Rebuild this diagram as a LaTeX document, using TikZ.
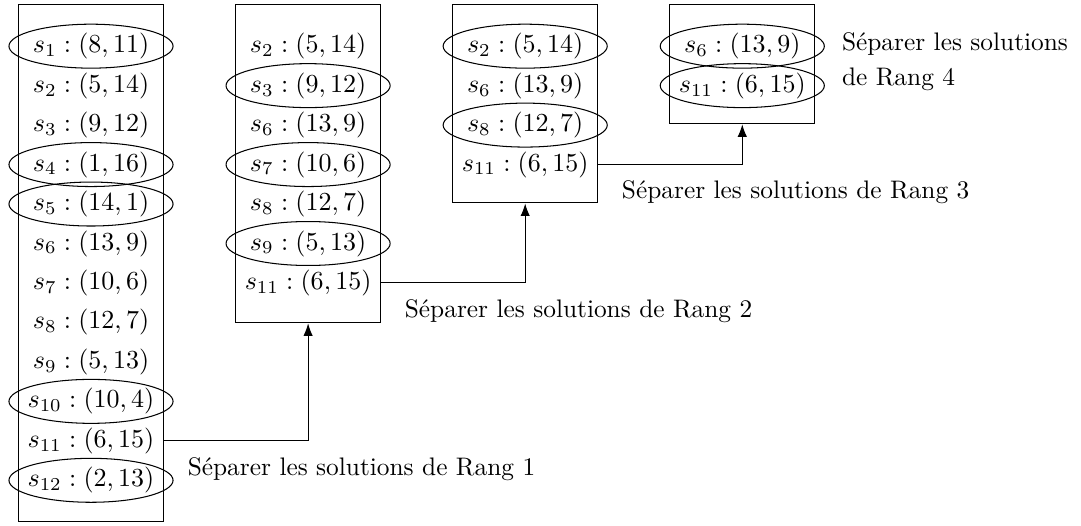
\documentclass[tikz,border=0pt]{standalone}
\usepackage{tikz}
\usetikzlibrary{arrows.meta, calc, positioning}

\begin{document}
\begin{tikzpicture}[>=Latex, font=\normalsize]
  \useasboundingbox (0,0) rectangle (14.61,7.10);
  \tikzset{
    solbox/.style={draw, minimum width=1.96cm, anchor=north, inner sep=0pt},
    entry/.style={inner sep=0pt},
    sellabel/.style={anchor=north west, align=left, scale=0.975}
  }

  % the four lists
  \node[solbox, minimum height=6.99cm] (boxA) at (1.230,7.044) {};
  \node[solbox, minimum height=4.30cm] (boxB) at (4.164,7.044) {};
  \node[solbox, minimum height=2.68cm] (boxC) at (7.098,7.044) {};
  \node[solbox, minimum height=1.61cm] (boxD) at (10.032,7.044) {};

  \foreach \s/\v [count=\r] in {1/{8,11},2/{5,14},3/{9,12},4/{1,16},5/{14,1},6/{13,9},7/{10,6},8/{12,7},9/{5,13},10/{10,4},11/{6,15},12/{2,13}} {
    \node[entry] (A-\s) at (1.230,{6.476-(\r-1)*0.5334}) {$s_{\s}:(\v)$};
  }
  \foreach \s/\v [count=\r] in {2/{5,14},3/{9,12},6/{13,9},7/{10,6},8/{12,7},9/{5,13},11/{6,15}} {
    \node[entry] (B-\s) at (4.164,{6.476-(\r-1)*0.5334}) {$s_{\s}:(\v)$};
  }
  \foreach \s/\v [count=\r] in {2/{5,14},6/{13,9},8/{12,7},11/{6,15}} {
    \node[entry] (C-\s) at (7.098,{6.476-(\r-1)*0.5334}) {$s_{\s}:(\v)$};
  }
  \foreach \s/\v [count=\r] in {6/{13,9},11/{6,15}} {
    \node[entry] (D-\s) at (10.032,{6.476-(\r-1)*0.5334}) {$s_{\s}:(\v)$};
  }

  % circled solutions of each rank
  \foreach \s in {1,4,5,10,12} \draw (A-\s) ellipse (1.109 and 0.297);
  \foreach \s in {3,7,9} \draw (B-\s) ellipse (1.109 and 0.297);
  \foreach \s in {2,8} \draw (C-\s) ellipse (1.109 and 0.297);
  \foreach \s in {6,11} \draw (D-\s) ellipse (1.109 and 0.297);

  \draw[->] (A-11 -| boxA.east) -| (boxB.south);
  \draw[->] (B-11 -| boxB.east) -| (boxC.south);
  \draw[->] (C-11 -| boxC.east) -| (boxD.south);

  \node[sellabel] (rang1) at ($(A-11 -| boxA.east)+(0.2,-0.1)$) {Séparer les solutions de Rang 1};
  \node[sellabel] (rang2) at ($(B-11 -| boxB.east)+(0.2,-0.1)$) {Séparer les solutions de Rang 2};
  \node[sellabel] (rang3) at ($(C-11 -| boxC.east)+(0.2,-0.1)$) {Séparer les solutions de Rang 3};
  \node[sellabel] (rang4) at ($(boxD.north east)+(0.24,-0.26)$) {Séparer les solutions\\[2pt]de Rang 4};
\end{tikzpicture}
\end{document}
